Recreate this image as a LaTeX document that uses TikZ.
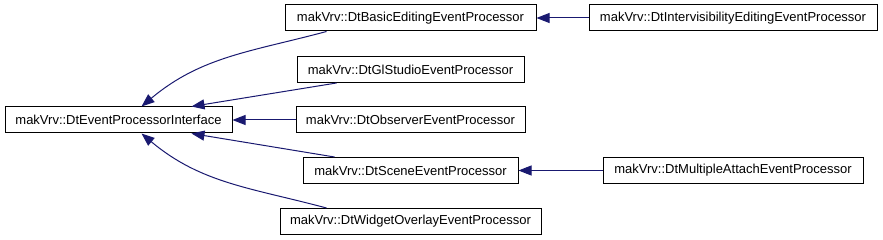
\documentclass[tikz,border=0pt]{standalone}
\usepackage{fontspec}
\setmainfont{Liberation Sans}
\usetikzlibrary{arrows.meta}
\definecolor{edgeblue}{RGB}{25,25,112}
\begin{document}
\begin{tikzpicture}[x=1pt,y=-1pt,
  cls/.style={draw=black, line width=1pt, fill=white, inner sep=0pt,
    minimum height=26pt, font=\fontsize{13}{15}\selectfont},
  edge/.style={draw=edgeblue, line width=1pt,
    -{Triangle[length=13pt,width=10pt,fill=edgeblue]}}]
\useasboundingbox (0,0) rectangle (883,240);
\node[cls, minimum width=227pt] (root) at (118.5,120) {makVrv::DtEventProcessorInterface};
\node[cls, minimum width=251pt] (be) at (410.5,18) {makVrv::DtBasicEditingEventProcessor};
\node[cls, minimum width=227pt] (gl) at (410.5,69.5) {makVrv::DtGlStudioEventProcessor};
\node[cls, minimum width=229pt] (ob) at (410.5,120) {makVrv::DtObserverEventProcessor};
\node[cls, minimum width=215pt] (sc) at (410.5,170.5) {makVrv::DtSceneEventProcessor};
\node[cls, minimum width=261pt] (wi) at (410.5,221.5) {makVrv::DtWidgetOverlayEventProcessor};
\node[cls, minimum width=288pt] (iv) at (733,18) {makVrv::DtIntervisibilityEditingEventProcessor};
\node[cls, minimum width=260pt] (ma) at (733,170.5) {makVrv::DtMultipleAttachEventProcessor};

\draw[edge] ([xshift=42pt]be.south west) to[out=195,in=40] ([xshift=137pt]root.north west);
\draw[edge] ([xshift=40pt]gl.south west) -- ([xshift=187pt]root.north west);
\draw[edge] (ob.west) -- (root.east);
\draw[edge] ([xshift=32pt]sc.north west) -- ([xshift=187pt]root.south west);
\draw[edge] ([xshift=47pt]wi.north west) to[out=165,in=-40] ([xshift=137pt]root.south west);
\draw[edge] (iv.west) -- (be.east);
\draw[edge] (ma.west) -- (sc.east);
\end{tikzpicture}
\end{document}
